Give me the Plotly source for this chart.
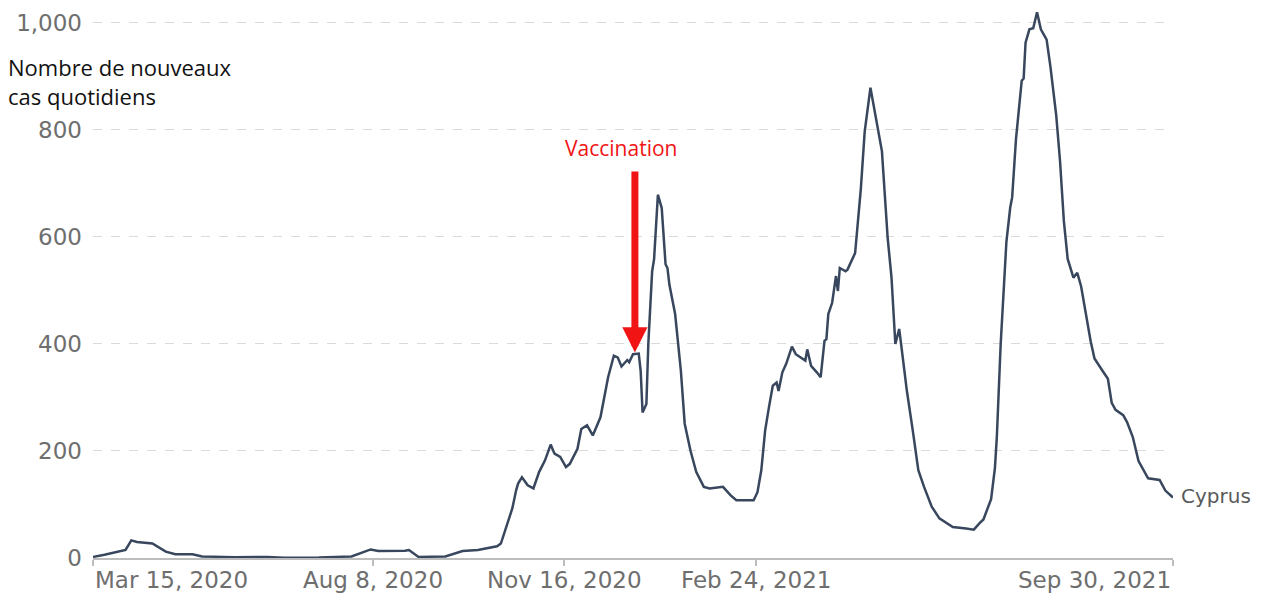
import plotly.graph_objects as go

# ---- data ----
dates = [
    "2020-03-15", "2020-03-21", "2020-04-01", "2020-04-04", "2020-04-07", "2020-04-15",
    "2020-04-22", "2020-04-27", "2020-05-06", "2020-05-11", "2020-05-28", "2020-06-14",
    "2020-06-23", "2020-07-11", "2020-07-28", "2020-08-02", "2020-08-07", "2020-08-11",
    "2020-08-25", "2020-08-27", "2020-09-01", "2020-09-15", "2020-09-24", "2020-10-02",
    "2020-10-12", "2020-10-14", "2020-10-17", "2020-10-20", "2020-10-22", "2020-10-23",
    "2020-10-25", "2020-10-28", "2020-10-31", "2020-11-03", "2020-11-06", "2020-11-09",
    "2020-11-11", "2020-11-14", "2020-11-17", "2020-11-19", "2020-11-23", "2020-11-25",
    "2020-11-28", "2020-12-01", "2020-12-05", "2020-12-07", "2020-12-09", "2020-12-12",
    "2020-12-14", "2020-12-16", "2020-12-19", "2020-12-20", "2020-12-22", "2020-12-25",
    "2020-12-26", "2020-12-27", "2020-12-29", "2020-12-30",
    "2021-01-01", "2021-01-02", "2021-01-04", "2021-01-06", "2021-01-08", "2021-01-09",
    "2021-01-10", "2021-01-13", "2021-01-16", "2021-01-18", "2021-01-21", "2021-01-24",
    "2021-01-28", "2021-01-31", "2021-02-07", "2021-02-11", "2021-02-14", "2021-02-23",
    "2021-02-25", "2021-02-27", "2021-03-01", "2021-03-03", "2021-03-05", "2021-03-07",
    "2021-03-08", "2021-03-10", "2021-03-12", "2021-03-15", "2021-03-17", "2021-03-19",
    "2021-03-22", "2021-03-23", "2021-03-25", "2021-03-28", "2021-03-30", "2021-04-01",
    "2021-04-02", "2021-04-03", "2021-04-05", "2021-04-07", "2021-04-08", "2021-04-09",
    "2021-04-12", "2021-04-13", "2021-04-17", "2021-04-20", "2021-04-22", "2021-04-25",
    "2021-04-28", "2021-05-01", "2021-05-04", "2021-05-06", "2021-05-08", "2021-05-10",
    "2021-05-11", "2021-05-14", "2021-05-17", "2021-05-20", "2021-05-23", "2021-05-27",
    "2021-05-31", "2021-06-07", "2021-06-14", "2021-06-18", "2021-06-21", "2021-06-23",
    "2021-06-27", "2021-06-29", "2021-06-30", "2021-07-02", "2021-07-05", "2021-07-07",
    "2021-07-08", "2021-07-10", "2021-07-13", "2021-07-14", "2021-07-15", "2021-07-17",
    "2021-07-19", "2021-07-21", "2021-07-23", "2021-07-26", "2021-07-28", "2021-07-31",
    "2021-08-02", "2021-08-04", "2021-08-06", "2021-08-09", "2021-08-11", "2021-08-13",
    "2021-08-18", "2021-08-20", "2021-08-24", "2021-08-27", "2021-08-29", "2021-08-31",
    "2021-09-04", "2021-09-06", "2021-09-09", "2021-09-12", "2021-09-17", "2021-09-23",
    "2021-09-26", "2021-09-30",
]
cases = [
    2, 6, 15, 33, 30, 27,
    12, 7, 7, 3, 1.5, 2,
    0.5, 1, 3, 9, 16, 13,
    13.5, 15, 2, 3, 13, 15,
    22, 27, 58, 93, 127, 139,
    151, 136, 130, 161, 182, 212,
    195, 189, 170, 176, 204, 241,
    248, 229, 263, 300, 338, 378,
    375, 358, 370, 366, 381, 382,
    350, 272, 288, 400,
    536, 558, 679, 654, 549, 542,
    511, 456, 350, 251, 201, 161,
    133, 130, 133, 117, 108, 108,
    123, 164, 238, 282, 322, 328,
    312, 347, 363, 395, 381, 376,
    369, 390, 359, 347, 338, 406,
    409, 456, 477, 527, 499, 542,
    536, 539, 570, 691, 797, 879,
    816, 760, 598, 524, 400, 428,
    400, 313, 241, 164, 133, 96,
    74, 58, 55, 53, 65, 72,
    110, 168, 226, 399, 591, 655,
    674, 783, 892, 896, 963, 988,
    990, 1020, 988, 969, 918, 828,
    742, 630, 559, 524, 533, 508,
    405, 373, 351, 335, 290, 277,
    267, 254, 226, 181, 149, 146,
    126, 113,
]
country = "Cyprus"

x_tick_dates = ["2020-03-15", "2020-08-08", "2020-11-16", "2021-02-24", "2021-09-30"]
x_tick_labels = ["Mar 15, 2020", "Aug 8, 2020", "Nov 16, 2020", "Feb 24, 2021", "Sep 30, 2021"]
y_tick_vals = [0, 200, 400, 600, 800, 1000]
y_tick_labels = ["0", "200", "400", "600", "800", "1,000"]

y_title = "Nombre de nouveaux<br>cas quotidiens"
event_label = "Vaccination"
event_date = "2020-12-23"
event_value = 384

# ---- figure ----
LINE = "#38475d"
GREY = "#6e6e6e"
AXIS = "#bdbdbd"
RED = "#f01414"

fig = go.Figure()
fig.add_trace(go.Scatter(
    x=dates, y=cases, mode="lines",
    line=dict(color=LINE, width=2.5),
    cliponaxis=False, hoverinfo="skip", showlegend=False,
))

annotations = []
for i, (d, lab) in enumerate(zip(x_tick_dates, x_tick_labels)):
    anchor = "left" if i == 0 else ("right" if i == len(x_tick_dates) - 1 else "center")
    annotations.append(dict(
        x=d, y=0, xref="x", yref="y", text=lab, showarrow=False,
        xanchor=anchor, yanchor="middle", yshift=-22,
        font=dict(family="DejaVu Sans", size=23, color=GREY),
    ))

# series label at the end of the line
annotations.append(dict(
    x=dates[-1], y=cases[-1], xref="x", yref="y", text=country, showarrow=False,
    xanchor="left", yanchor="middle", xshift=6, yshift=2,
    font=dict(family="DejaVu Sans", size=20, color="#5a5a5a"),
))

# y axis title
annotations.append(dict(
    x=0, y=1, xref="paper", yref="paper", text=y_title, showarrow=False,
    xanchor="left", yanchor="top", xshift=-87, yshift=-38, align="left",
    font=dict(family="Open Sans", size=22, color="#111111"),
))

# vaccination arrow
annotations.append(dict(
    x=event_date, y=event_value, xref="x", yref="y", text=" ",
    showarrow=True, arrowhead=2, arrowsize=0.72, arrowwidth=7, arrowcolor=RED,
    ax=0, ay=-183, standoff=0, font=dict(size=1),
))
annotations.append(dict(
    x=event_date, y=event_value, xref="x", yref="y", text=event_label,
    showarrow=False, xanchor="center", yanchor="middle", xshift=-14, yshift=205,
    font=dict(family="Open Sans", size=21, color=RED),
))

# the page body adds an 8px offset, so the figure is 8px smaller than the window
fig.update_layout(
    width=1253, height=586,
    margin=dict(l=85, r=88, t=2, b=36),
    plot_bgcolor="white", paper_bgcolor="white",
    showlegend=False,
    xaxis=dict(
        type="date", range=[x_tick_dates[0], x_tick_dates[-1]],
        tickvals=x_tick_dates, showticklabels=False,
        ticks="outside", ticklen=6, tickcolor=AXIS, tickwidth=1.5,
        showline=True, linecolor=AXIS, linewidth=1.5,
        showgrid=False, zeroline=False,
    ),
    yaxis=dict(
        range=[0, 1020.5], tickvals=y_tick_vals, ticktext=y_tick_labels,
        showgrid=True, gridcolor="#dadada", griddash="dash", gridwidth=1,
        zeroline=False, showline=False, ticks="",
        ticklabelstandoff=10,
        tickfont=dict(family="DejaVu Sans", size=23, color=GREY),
    ),
    annotations=annotations,
)

fig.write_html("out.html")
